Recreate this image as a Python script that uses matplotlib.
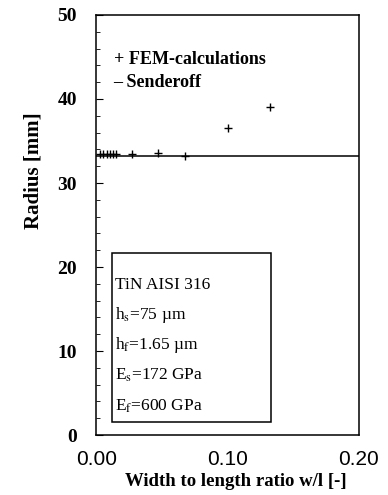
import numpy as np
import matplotlib
matplotlib.use("Agg")
from matplotlib import pyplot as plt
from matplotlib.patches import Rectangle

# FEM-calculations
fem_ratio = [0.0027, 0.0052, 0.0078, 0.0103, 0.0128, 0.0149, 0.0268, 0.0471, 0.0674, 0.1004, 0.1322]
fem_radius = [33.4, 33.4, 33.4, 33.4, 33.4, 33.4, 33.4, 33.6, 33.2, 36.6, 39.1]

# Senderoff prediction (constant)
senderoff_ratio = [0.0, 0.2]
senderoff_radius = [33.2, 33.2]

box_lines = ["TiN AISI 316",
             r"h$_{\rm s}$=75 µm",
             r"h$_{\rm f}$=1.65 µm",
             r"E$_{\rm s}$=172 GPa",
             r"E$_{\rm f}$=600 GPa"]

plt.rcParams['font.family'] = ['Liberation Serif', 'DejaVu Serif']
plt.rcParams['mathtext.fontset'] = 'stix'

fig = plt.figure(figsize=(3.88, 4.95), dpi=100)
ax = fig.add_axes([0.2487, 0.1212, 0.6765, 0.8485])

ax.plot(senderoff_ratio, senderoff_radius, color='black', lw=1.1)
ax.plot(fem_ratio, fem_radius, ls='none', marker='+', ms=6, mew=1.0, color='black')

ax.set_xlim(0, 0.2)
ax.set_ylim(0, 50)
ax.set_xticks([0.0, 0.1, 0.2])
ax.set_xticklabels(['0.00', '0.10', '0.20'], family='Liberation Sans', fontsize=15)
ax.set_yticks([0, 10, 20, 30, 40, 50])
ax.set_yticks(np.arange(0, 51, 2), minor=True)
for lab in ax.get_yticklabels():
    lab.set_fontweight('bold')
    lab.set_fontsize(14)
ax.tick_params(axis='y', which='both', direction='in', right=False, pad=14)
ax.tick_params(axis='y', which='major', length=5)
ax.tick_params(axis='y', which='minor', length=3)
ax.tick_params(axis='x', direction='in', top=False, length=0, pad=11)
for sp in ax.spines.values():
    sp.set_linewidth(1.1)

ax.set_xlabel('Width to length ratio w/l [-]', fontweight='bold', fontsize=13.5)
ax.xaxis.set_label_coords(0.53, -0.09)
ax.set_ylabel('Radius [mm]', fontweight='bold', fontsize=15)
ax.yaxis.set_label_coords(-0.20, 0.63)

ax.text(0.065, 0.895, '+ FEM-calculations', transform=ax.transAxes, fontsize=13,
        fontweight='bold', va='center')
ax.text(0.065, 0.84, '– Senderoff', transform=ax.transAxes, fontsize=13,
        fontweight='bold', va='center')

# parameter box
ax.add_patch(Rectangle((0.059, 0.031), 0.604, 0.402, transform=ax.transAxes,
                       fc='white', ec='black', lw=1.1, zorder=3))
box_y = [0.357, 0.286, 0.214, 0.143, 0.069]
for txt, yy in zip(box_lines, box_y):
    ax.text(0.07, yy, txt, transform=ax.transAxes, fontsize=12.5,
            va='center', ha='left', zorder=4)

fig.savefig('out.png', dpi=100)
